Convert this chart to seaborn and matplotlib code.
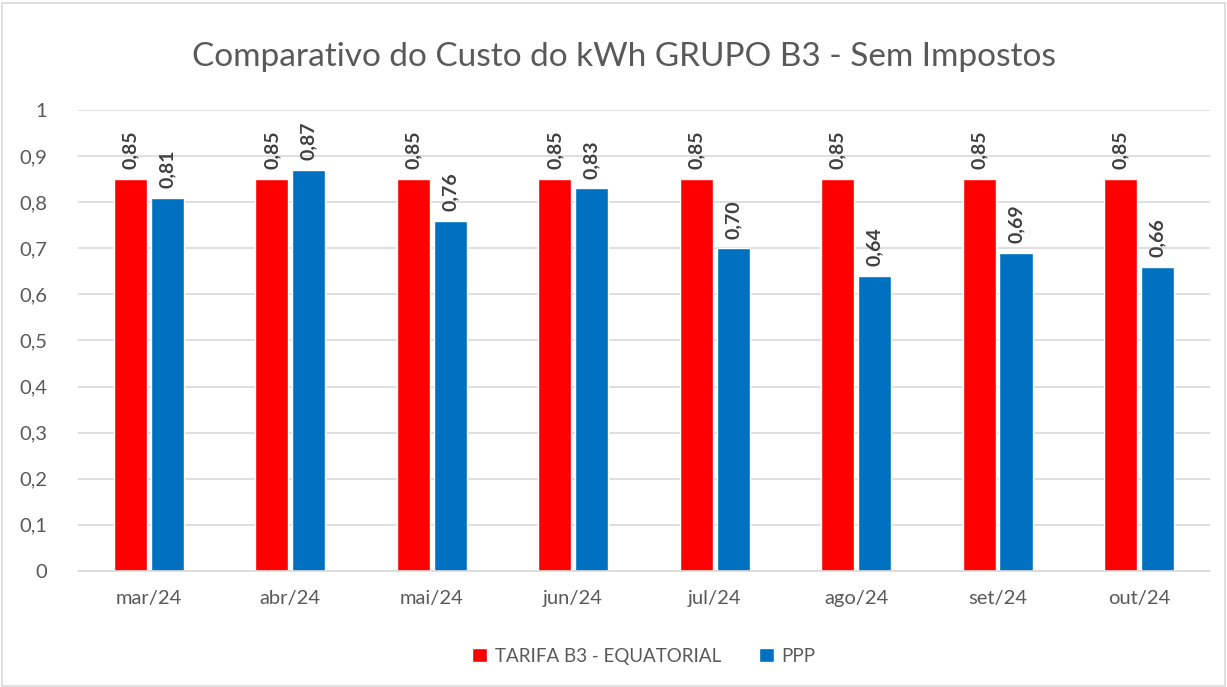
import pandas as pd
import matplotlib.pyplot as plt
import seaborn as sns
from matplotlib.patches import Rectangle
from matplotlib.ticker import FuncFormatter

# chart data
months = ['mar/24', 'abr/24', 'mai/24', 'jun/24', 'jul/24', 'ago/24', 'set/24', 'out/24']
tarifa_b3 = [0.85, 0.85, 0.85, 0.85, 0.85, 0.85, 0.85, 0.85]
ppp = [0.81, 0.87, 0.76, 0.83, 0.70, 0.64, 0.69, 0.66]
series_names = ['TARIFA B3 - EQUATORIAL', 'PPP']
colors = ['#ff0000', '#0070c0']

df = pd.DataFrame({
    'mes': months * 2,
    'valor': tarifa_b3 + ppp,
    'serie': [series_names[0]] * len(months) + [series_names[1]] * len(months),
})

sns.set_style('white')
plt.rcParams['font.family'] = ['Lato', 'DejaVu Sans']
text_grey = '#595959'

fig = plt.figure(figsize=(12.27, 6.87), dpi=100)
ax = fig.add_axes([0.0636, 0.1689, 0.9224, 0.6711])

sns.barplot(data=df, x='mes', y='valor', hue='serie', palette=colors,
            width=0.52, gap=0.1, order=months, hue_order=series_names,
            saturation=1, ax=ax, legend=True)

# value labels, rotated
for cont in ax.containers:
    for bar in cont:
        h = bar.get_height()
        ax.annotate(f'{h:.2f}'.replace('.', ','),
                    (bar.get_x() + bar.get_width() / 2, h),
                    xytext=(0, 7), textcoords='offset points',
                    rotation=90, ha='center', va='bottom',
                    fontsize=14, fontweight='bold', color='#404040')

ax.set_ylim(0, 1)
ax.set_xlim(-0.5, len(months) - 0.5)
ax.set_yticks([i / 10 for i in range(11)])
ax.yaxis.set_major_formatter(FuncFormatter(
    lambda v, p: '0' if v == 0 else ('1' if abs(v - 1) < 1e-9 else f'{v:.1f}'.replace('.', ','))))
ax.grid(axis='y', color='#d9d9d9', linewidth=1.2)
ax.set_axisbelow(True)
for s in ['top', 'right', 'left']:
    ax.spines[s].set_visible(False)
ax.spines['bottom'].set_color('#d9d9d9')
ax.spines['bottom'].set_linewidth(1.2)

ax.set_xticks([i - 0.5 for i in range(len(months) + 1)], minor=True)
ax.tick_params(axis='x', which='minor', length=6, color='#d9d9d9', width=1.2)
ax.tick_params(axis='x', which='major', length=0, pad=14, labelsize=14.5, labelcolor=text_grey)
ax.tick_params(axis='y', length=0, pad=22, labelsize=14.5, labelcolor=text_grey)
ax.set_xlabel('')
ax.set_ylabel('')

fig.text(0.5086, 0.917, 'Comparativo do Custo do kWh GRUPO B3 - Sem Impostos',
         fontsize=24, color=text_grey, ha='center', va='center')

ax.legend(loc='upper center', bbox_to_anchor=(0.5, -0.13), ncol=2, frameon=False,
          fontsize=13.5, labelcolor=text_grey, handlelength=0.8, handleheight=0.8,
          handletextpad=0.4, columnspacing=2.0)

fig.patches.append(Rectangle((0.002, 0.002), 0.996, 0.994, transform=fig.transFigure,
                             fill=False, edgecolor='#d9d9d9', linewidth=1.2))

fig.savefig('out.png', dpi=100)
